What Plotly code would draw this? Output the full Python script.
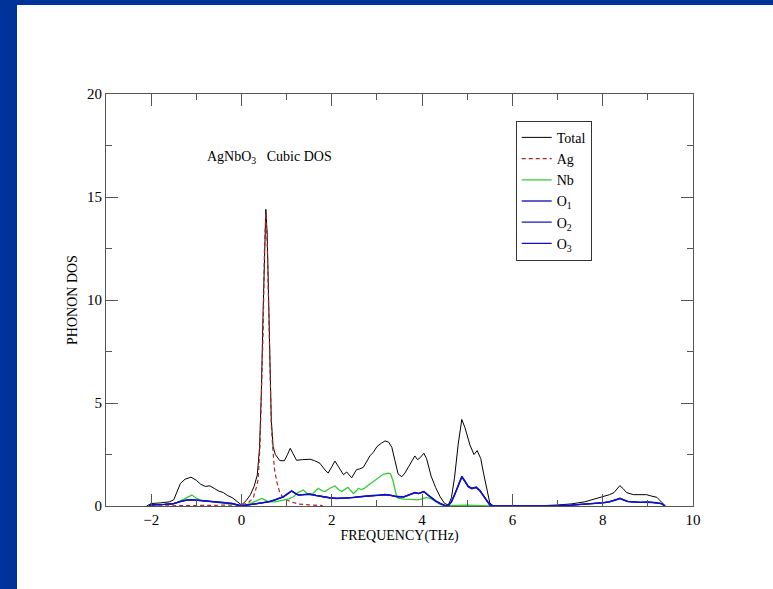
import plotly.graph_objects as go

# ---------------- data ----------------
freq_total = [-2.1, -2.0, -1.8, -1.6, -1.5, -1.4, -1.35, -1.25, -1.12, -1.0, -0.9, -0.8, -0.7, -0.6, -0.5,
              -0.4, -0.3, -0.2, -0.1, 0.0, 0.1, 0.2, 0.28, 0.35, 0.4, 0.44, 0.48, 0.51, 0.54, 0.57,
              0.6, 0.63, 0.66, 0.7, 0.75, 0.85, 0.95, 1.02, 1.08, 1.14, 1.22, 1.35, 1.52, 1.62, 1.74,
              1.85, 1.92, 2.0, 2.07, 2.15, 2.26, 2.33, 2.44, 2.55, 2.62, 2.7, 2.78, 2.85, 2.92, 3.0,
              3.1, 3.18, 3.26, 3.33, 3.4, 3.47, 3.55, 3.62, 3.7, 3.78, 3.84, 3.9, 3.96, 4.04, 4.1,
              4.2, 4.3, 4.4, 4.5, 4.58, 4.65, 4.72, 4.8, 4.88, 4.95, 5.06, 5.15, 5.22, 5.3, 5.36,
              5.44, 5.5, 5.58, 6.0, 6.5, 7.0, 7.3, 7.6, 7.85, 8.0, 8.15, 8.25, 8.32, 8.38, 8.45,
              8.53, 8.68, 8.8, 8.97, 9.05, 9.2, 9.3, 9.38]
dos_total = [0.0, 0.12, 0.15, 0.2, 0.3, 0.8, 1.1, 1.3, 1.4, 1.25, 1.05, 0.95, 0.98, 0.85, 0.72,
             0.65, 0.5, 0.4, 0.22, 0.05, 0.25, 0.55, 0.95, 1.5, 2.8, 5.5, 9.5, 12.8, 14.4, 13.2,
             10.0, 6.5, 4.2, 2.9, 2.5, 2.2, 2.2, 2.5, 2.8, 2.55, 2.22, 2.25, 2.27, 2.2, 2.07,
             1.75, 1.6, 1.9, 2.18, 1.9, 1.52, 1.65, 1.37, 1.77, 1.8, 1.88, 2.2, 2.45, 2.6, 2.88,
             3.05, 3.16, 3.1, 2.85, 2.2, 1.55, 1.42, 1.6, 1.9, 2.2, 2.43, 2.25, 2.35, 2.56, 2.3,
             1.45, 0.9, 0.45, 0.12, 0.05, 0.4, 1.4, 3.0, 4.2, 3.8, 2.96, 2.5, 2.69, 2.3, 1.6,
             0.8, 0.15, 0.0, 0.0, 0.0, 0.05, 0.1, 0.2, 0.35, 0.45, 0.55, 0.65, 0.85, 0.99, 0.85,
             0.65, 0.55, 0.55, 0.55, 0.5, 0.42, 0.2, 0.02]

freq_ag = [-2.0, -1.0, -0.5, 0.0, 0.15, 0.26, 0.33, 0.37, 0.41, 0.45, 0.48, 0.51, 0.54, 0.57, 0.6,
           0.63, 0.66, 0.69, 0.73, 0.78, 0.85, 0.92, 1.0, 1.1, 1.25, 1.5, 1.8]
dos_ag = [0.0, 0.01, 0.02, 0.05, 0.15, 0.4, 0.9, 1.3, 2.9, 5.5, 8.5, 12.5, 14.2, 12.8, 9.5,
          6.2, 4.0, 2.9, 1.8, 1.2, 0.63, 0.42, 0.3, 0.2, 0.1, 0.05, 0.02]

freq_nb = [-2.05, -2.0, -1.7, -1.5, -1.35, -1.2, -1.1, -1.0, -0.9, -0.7, -0.5, -0.3, -0.1, 0.0, 0.2,
           0.35, 0.45, 0.52, 0.6, 0.75, 0.93, 1.05, 1.15, 1.25, 1.37, 1.46, 1.55, 1.62, 1.7, 1.78,
           1.85, 1.95, 2.07, 2.15, 2.22, 2.3, 2.36, 2.42, 2.48, 2.55, 2.59, 2.65, 2.72, 2.8, 2.92,
           3.02, 3.14, 3.25, 3.3, 3.36, 3.42, 3.47, 3.6, 3.75, 3.9, 4.0, 4.1, 4.2, 4.3, 4.4,
           4.5, 4.6, 4.8, 5.0, 5.3, 5.5]
dos_nb = [0.0, 0.05, 0.08, 0.1, 0.25, 0.4, 0.53, 0.38, 0.28, 0.22, 0.15, 0.1, 0.05, 0.0, 0.12,
          0.25, 0.37, 0.3, 0.2, 0.2, 0.3, 0.35, 0.45, 0.65, 0.78, 0.6, 0.53, 0.7, 0.86, 0.75,
          0.7, 0.85, 0.97, 0.8, 0.7, 0.82, 0.91, 0.75, 0.6, 0.75, 0.86, 0.8, 0.85, 1.0, 1.2,
          1.35, 1.54, 1.6, 1.58, 1.2, 0.6, 0.38, 0.33, 0.32, 0.3, 0.35, 0.42, 0.35, 0.2, 0.08,
          0.02, 0.03, 0.05, 0.04, 0.02, 0.0]

freq_o = [-2.05, -2.0, -1.7, -1.5, -1.35, -1.2, -1.1, -0.95, -0.8, -0.6, -0.4, -0.2, -0.05, 0.0, 0.15,
          0.3, 0.45, 0.6, 0.75, 0.93, 1.03, 1.11, 1.2, 1.26, 1.4, 1.52, 1.65, 1.81, 1.95, 2.1,
          2.3, 2.48, 2.6, 2.77, 2.9, 3.07, 3.18, 3.29, 3.45, 3.6, 3.72, 3.84, 3.92, 4.04, 4.12,
          4.2, 4.3, 4.4, 4.5, 4.58, 4.65, 4.72, 4.8, 4.88, 4.95, 5.02, 5.1, 5.2, 5.28, 5.36,
          5.44, 5.5, 5.58, 6.5, 7.0, 7.3, 7.6, 7.85, 8.0, 8.15, 8.25, 8.32, 8.38, 8.45, 8.55,
          8.7, 8.85, 9.0, 9.15, 9.3, 9.38]
dos_o1 = [0.0, 0.05, 0.08, 0.12, 0.22, 0.3, 0.3, 0.28, 0.25, 0.22, 0.18, 0.12, 0.03, 0.0, 0.05,
          0.1, 0.15, 0.2, 0.3, 0.45, 0.6, 0.73, 0.6, 0.53, 0.55, 0.58, 0.52, 0.45, 0.4, 0.37,
          0.38, 0.42, 0.45, 0.48, 0.5, 0.53, 0.55, 0.53, 0.45, 0.45, 0.55, 0.65, 0.6, 0.7, 0.55,
          0.4, 0.25, 0.12, 0.03, 0.02, 0.2, 0.55, 1.0, 1.42, 1.2, 0.95, 0.85, 0.9, 0.75, 0.5,
          0.25, 0.05, 0.0, 0.0, 0.02, 0.04, 0.08, 0.12, 0.15, 0.2, 0.25, 0.32, 0.37, 0.3, 0.22,
          0.2, 0.18, 0.2, 0.17, 0.12, 0.0]
dos_o2 = [0.0, 0.05, 0.08, 0.12, 0.21, 0.29, 0.3, 0.27, 0.25, 0.21, 0.17, 0.12, 0.03, 0.0, 0.05,
          0.1, 0.15, 0.21, 0.31, 0.46, 0.62, 0.72, 0.6, 0.54, 0.55, 0.57, 0.51, 0.44, 0.39, 0.36,
          0.37, 0.41, 0.44, 0.47, 0.5, 0.52, 0.54, 0.52, 0.44, 0.44, 0.54, 0.64, 0.6, 0.69, 0.55,
          0.4, 0.24, 0.12, 0.03, 0.02, 0.21, 0.56, 1.02, 1.45, 1.22, 0.97, 0.87, 0.92, 0.76, 0.5,
          0.25, 0.05, 0.0, 0.0, 0.02, 0.04, 0.08, 0.12, 0.16, 0.21, 0.26, 0.33, 0.38, 0.31, 0.22,
          0.2, 0.18, 0.2, 0.17, 0.12, 0.0]
dos_o3 = [0.0, 0.05, 0.08, 0.12, 0.22, 0.3, 0.31, 0.28, 0.26, 0.22, 0.18, 0.13, 0.03, 0.0, 0.05,
          0.1, 0.16, 0.2, 0.3, 0.44, 0.59, 0.74, 0.61, 0.53, 0.56, 0.58, 0.52, 0.45, 0.4, 0.38,
          0.38, 0.42, 0.45, 0.48, 0.51, 0.53, 0.56, 0.53, 0.46, 0.45, 0.55, 0.66, 0.61, 0.71, 0.56,
          0.41, 0.25, 0.13, 0.03, 0.02, 0.2, 0.54, 0.98, 1.4, 1.18, 0.94, 0.84, 0.89, 0.74, 0.49,
          0.24, 0.05, 0.0, 0.0, 0.02, 0.04, 0.08, 0.12, 0.15, 0.2, 0.25, 0.31, 0.36, 0.3, 0.21,
          0.19, 0.18, 0.19, 0.17, 0.11, 0.0]

series_names = ["Total", "Ag", "Nb", "O<sub>1</sub>", "O<sub>2</sub>", "O<sub>3</sub>"]
x_ticks = [-2, 0, 2, 4, 6, 8, 10]
y_ticks = [0, 5, 10, 15, 20]

# ---------------- figure ----------------
SERIF = "Liberation Serif, Times New Roman, serif"
AXIS_COLOR = "#555555"

fig = go.Figure()
fig.add_trace(go.Scatter(x=freq_total, y=dos_total, name=series_names[0], mode="lines",
                         line=dict(color="black", width=1)))
fig.add_trace(go.Scatter(x=freq_ag, y=dos_ag, name=series_names[1], mode="lines",
                         line=dict(color="#b22222", width=1.2, dash="4px,3px")))
fig.add_trace(go.Scatter(x=freq_nb, y=dos_nb, name=series_names[2], mode="lines",
                         line=dict(color="#33cc33", width=1.3)))
for nm, ys, col in zip(series_names[3:], [dos_o1, dos_o2, dos_o3], ["#2a2ab8", "#1818c0", "#1010cc"]):
    fig.add_trace(go.Scatter(x=freq_o, y=ys, name=nm, mode="lines",
                             line=dict(color=col, width=1.3)))

axis_common = dict(
    showgrid=False, zeroline=False, showline=True, linecolor=AXIS_COLOR, linewidth=1,
    mirror="ticks", ticks="inside", ticklen=12, tickwidth=1, tickcolor=AXIS_COLOR,
    tickfont=dict(family=SERIF, size=15, color="black"),
)

fig.update_xaxes(range=[-3, 10], tickvals=x_ticks,
                 minor=dict(dtick=1, tick0=0, ticks="inside", ticklen=6, tickcolor=AXIS_COLOR),
                 title=dict(text="FREQUENCY(THz)", font=dict(family=SERIF, size=14, color="black"),
                            standoff=2),
                 **axis_common)
fig.update_yaxes(range=[0, 20], tickvals=y_ticks,
                 minor=dict(dtick=2.5, tick0=0, ticks="inside", ticklen=6, tickcolor=AXIS_COLOR),
                 title=dict(text="PHONON DOS", font=dict(family=SERIF, size=14, color="black"),
                            standoff=6),
                 **axis_common)

fig.add_annotation(xref="paper", yref="paper", x=0.168, y=0.847, xanchor="left", yanchor="middle",
                   text="AgNbO<sub>3</sub>&nbsp;&nbsp;&nbsp;Cubic DOS", showarrow=False,
                   font=dict(family=SERIF, size=14, color="black"))

# blue frame of the slide: blue paper, white card
fig.add_shape(type="rect", xref="paper", yref="paper", layer="below",
              x0=(17 - 106) / 587, x1=1.2, y0=-0.3, y1=1 + (94 - 5) / 412,
              fillcolor="white", line=dict(width=0))

fig.update_layout(
    width=773, height=589,
    margin=dict(l=106, r=80, t=94, b=83),
    paper_bgcolor="#003399", plot_bgcolor="white",
    showlegend=True,
    legend=dict(x=0.698, y=0.935, xanchor="left", yanchor="top",
                bgcolor="white", bordercolor="#333333", borderwidth=1,
                font=dict(family=SERIF, size=14, color="black"),
                tracegroupgap=0, itemwidth=30),
)

fig.write_html("out.html", config={"displayModeBar": False},
               post_script="document.body.style.margin='0';document.body.style.padding='0';"
                           "document.documentElement.style.overflow='hidden';")
